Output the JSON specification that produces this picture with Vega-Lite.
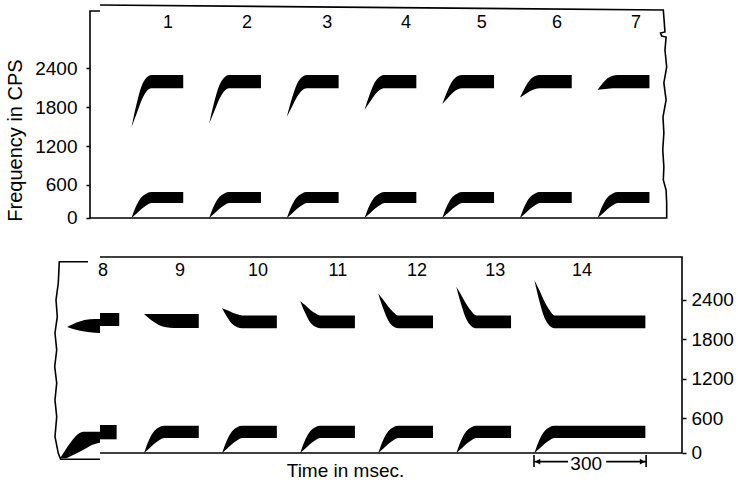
{
  "$schema": "https://vega.github.io/schema/vega-lite/v6.json",
  "width": 592,
  "height": 485,
  "autosize": {"type": "none"},
  "padding": {"left": 90, "top": 0, "right": 56, "bottom": 0},
  "background": "white",
  "config": {"view": {"stroke": null}, "font": "Liberation Sans"},
  "data": {"values": [
    {"k":"a","p":"T","id":"T1F2","t":112,"f":1490,"f2":1490},
    {"k":"a","p":"T","id":"T1F2","t":126,"f":1702,"f2":1855},
    {"k":"a","p":"T","id":"T1F2","t":139,"f":1901,"f2":2122},
    {"k":"a","p":"T","id":"T1F2","t":153,"f":2047,"f2":2260},
    {"k":"a","p":"T","id":"T1F2","t":166,"f":2095,"f2":2300},
    {"k":"a","p":"T","id":"T1F2","t":252,"f":2095,"f2":2300},
    {"k":"a","p":"T","id":"T2F2","t":322,"f":1545,"f2":1545},
    {"k":"a","p":"T","id":"T2F2","t":336,"f":1738,"f2":1885},
    {"k":"a","p":"T","id":"T2F2","t":349,"f":1919,"f2":2134},
    {"k":"a","p":"T","id":"T2F2","t":363,"f":2051,"f2":2262},
    {"k":"a","p":"T","id":"T2F2","t":376,"f":2095,"f2":2300},
    {"k":"a","p":"T","id":"T2F2","t":462,"f":2095,"f2":2300},
    {"k":"a","p":"T","id":"T3F2","t":532,"f":1655,"f2":1655},
    {"k":"a","p":"T","id":"T3F2","t":546,"f":1809,"f2":1945},
    {"k":"a","p":"T","id":"T3F2","t":559,"f":1954,"f2":2158},
    {"k":"a","p":"T","id":"T3F2","t":573,"f":2060,"f2":2268},
    {"k":"a","p":"T","id":"T3F2","t":586,"f":2095,"f2":2300},
    {"k":"a","p":"T","id":"T3F2","t":672,"f":2095,"f2":2300},
    {"k":"a","p":"T","id":"T4F2","t":742,"f":1760,"f2":1760},
    {"k":"a","p":"T","id":"T4F2","t":756,"f":1877,"f2":2003},
    {"k":"a","p":"T","id":"T4F2","t":769,"f":1988,"f2":2181},
    {"k":"a","p":"T","id":"T4F2","t":783,"f":2068,"f2":2273},
    {"k":"a","p":"T","id":"T4F2","t":796,"f":2095,"f2":2300},
    {"k":"a","p":"T","id":"T4F2","t":882,"f":2095,"f2":2300},
    {"k":"a","p":"T","id":"T5F2","t":952,"f":1850,"f2":1850},
    {"k":"a","p":"T","id":"T5F2","t":966,"f":1936,"f2":2053},
    {"k":"a","p":"T","id":"T5F2","t":979,"f":2017,"f2":2201},
    {"k":"a","p":"T","id":"T5F2","t":993,"f":2075,"f2":2278},
    {"k":"a","p":"T","id":"T5F2","t":1006,"f":2095,"f2":2300},
    {"k":"a","p":"T","id":"T5F2","t":1092,"f":2095,"f2":2300},
    {"k":"a","p":"T","id":"T6F2","t":1162,"f":1950,"f2":1950},
    {"k":"a","p":"T","id":"T6F2","t":1176,"f":2001,"f2":2108},
    {"k":"a","p":"T","id":"T6F2","t":1189,"f":2049,"f2":2223},
    {"k":"a","p":"T","id":"T6F2","t":1203,"f":2083,"f2":2283},
    {"k":"a","p":"T","id":"T6F2","t":1216,"f":2095,"f2":2300},
    {"k":"a","p":"T","id":"T6F2","t":1302,"f":2095,"f2":2300},
    {"k":"a","p":"T","id":"T7F2","t":1372,"f":2070,"f2":2070},
    {"k":"a","p":"T","id":"T7F2","t":1386,"f":2079,"f2":2174},
    {"k":"a","p":"T","id":"T7F2","t":1399,"f":2087,"f2":2249},
    {"k":"a","p":"T","id":"T7F2","t":1413,"f":2093,"f2":2289},
    {"k":"a","p":"T","id":"T7F2","t":1426,"f":2095,"f2":2300},
    {"k":"a","p":"T","id":"T7F2","t":1512,"f":2095,"f2":2300},

    {"k":"a","p":"T","id":"T1F1","t":112,"f":90,"f2":90},
    {"k":"a","p":"T","id":"T1F1","t":126,"f":159,"f2":290},
    {"k":"a","p":"T","id":"T1F1","t":139,"f":228,"f2":410},
    {"k":"a","p":"T","id":"T1F1","t":153,"f":286,"f2":470},
    {"k":"a","p":"T","id":"T1F1","t":166,"f":320,"f2":490},
    {"k":"a","p":"T","id":"T1F1","t":252,"f":320,"f2":490},
    {"k":"a","p":"T","id":"T2F1","t":322,"f":90,"f2":90},
    {"k":"a","p":"T","id":"T2F1","t":336,"f":159,"f2":290},
    {"k":"a","p":"T","id":"T2F1","t":349,"f":228,"f2":410},
    {"k":"a","p":"T","id":"T2F1","t":363,"f":286,"f2":470},
    {"k":"a","p":"T","id":"T2F1","t":376,"f":320,"f2":490},
    {"k":"a","p":"T","id":"T2F1","t":462,"f":320,"f2":490},
    {"k":"a","p":"T","id":"T3F1","t":532,"f":90,"f2":90},
    {"k":"a","p":"T","id":"T3F1","t":546,"f":159,"f2":290},
    {"k":"a","p":"T","id":"T3F1","t":559,"f":228,"f2":410},
    {"k":"a","p":"T","id":"T3F1","t":573,"f":286,"f2":470},
    {"k":"a","p":"T","id":"T3F1","t":586,"f":320,"f2":490},
    {"k":"a","p":"T","id":"T3F1","t":672,"f":320,"f2":490},
    {"k":"a","p":"T","id":"T4F1","t":742,"f":90,"f2":90},
    {"k":"a","p":"T","id":"T4F1","t":756,"f":159,"f2":290},
    {"k":"a","p":"T","id":"T4F1","t":769,"f":228,"f2":410},
    {"k":"a","p":"T","id":"T4F1","t":783,"f":286,"f2":470},
    {"k":"a","p":"T","id":"T4F1","t":796,"f":320,"f2":490},
    {"k":"a","p":"T","id":"T4F1","t":882,"f":320,"f2":490},
    {"k":"a","p":"T","id":"T5F1","t":952,"f":90,"f2":90},
    {"k":"a","p":"T","id":"T5F1","t":966,"f":159,"f2":290},
    {"k":"a","p":"T","id":"T5F1","t":979,"f":228,"f2":410},
    {"k":"a","p":"T","id":"T5F1","t":993,"f":286,"f2":470},
    {"k":"a","p":"T","id":"T5F1","t":1006,"f":320,"f2":490},
    {"k":"a","p":"T","id":"T5F1","t":1092,"f":320,"f2":490},
    {"k":"a","p":"T","id":"T6F1","t":1162,"f":90,"f2":90},
    {"k":"a","p":"T","id":"T6F1","t":1176,"f":159,"f2":290},
    {"k":"a","p":"T","id":"T6F1","t":1189,"f":228,"f2":410},
    {"k":"a","p":"T","id":"T6F1","t":1203,"f":286,"f2":470},
    {"k":"a","p":"T","id":"T6F1","t":1216,"f":320,"f2":490},
    {"k":"a","p":"T","id":"T6F1","t":1302,"f":320,"f2":490},
    {"k":"a","p":"T","id":"T7F1","t":1372,"f":90,"f2":90},
    {"k":"a","p":"T","id":"T7F1","t":1386,"f":159,"f2":290},
    {"k":"a","p":"T","id":"T7F1","t":1399,"f":228,"f2":410},
    {"k":"a","p":"T","id":"T7F1","t":1413,"f":286,"f2":470},
    {"k":"a","p":"T","id":"T7F1","t":1426,"f":320,"f2":490},
    {"k":"a","p":"T","id":"T7F1","t":1512,"f":320,"f2":490},

    {"k":"a","p":"B","id":"B8F2w","t":-62,"f":1989,"f2":1989},
    {"k":"a","p":"B","id":"B8F2w","t":-30,"f":1935,"f2":2070},
    {"k":"a","p":"B","id":"B8F2w","t":0,"f":1910,"f2":2105},
    {"k":"a","p":"B","id":"B8F2w","t":27,"f":1898,"f2":2111},
    {"k":"a","p":"B","id":"B8F2b","t":27,"f":2004,"f2":2202},
    {"k":"a","p":"B","id":"B8F2b","t":79,"f":2004,"f2":2202},
    {"k":"a","p":"B","id":"B8F1w","t":-81,"f":-10,"f2":-10},
    {"k":"a","p":"B","id":"B8F1w","t":-67,"f":-8,"f2":115},
    {"k":"a","p":"B","id":"B8F1w","t":-54,"f":20,"f2":219},
    {"k":"a","p":"B","id":"B8F1w","t":-40,"f":55,"f2":320},
    {"k":"a","p":"B","id":"B8F1w","t":-18,"f":120,"f2":396},
    {"k":"a","p":"B","id":"B8F1w","t":0,"f":180,"f2":396},
    {"k":"a","p":"B","id":"B8F1w","t":27,"f":228,"f2":396},
    {"k":"a","p":"B","id":"B8F1b","t":27,"f":280,"f2":498},
    {"k":"a","p":"B","id":"B8F1b","t":72,"f":280,"f2":498},

    {"k":"a","p":"B","id":"B9F2","t":146,"f":2185,"f2":2185},
    {"k":"a","p":"B","id":"B9F2","t":166,"f":2090,"f2":2185},
    {"k":"a","p":"B","id":"B9F2","t":186,"f":2021,"f2":2185},
    {"k":"a","p":"B","id":"B9F2","t":206,"f":1986,"f2":2185},
    {"k":"a","p":"B","id":"B9F2","t":226,"f":1975,"f2":2185},
    {"k":"a","p":"B","id":"B9F2","t":294,"f":1975,"f2":2185},
    {"k":"a","p":"B","id":"B10F2","t":357,"f":2275,"f2":2275},
    {"k":"a","p":"B","id":"B10F2","t":371,"f":2138,"f2":2242},
    {"k":"a","p":"B","id":"B10F2","t":384,"f":2037,"f2":2209},
    {"k":"a","p":"B","id":"B10F2","t":398,"f":1985,"f2":2181},
    {"k":"a","p":"B","id":"B10F2","t":411,"f":1970,"f2":2165},
    {"k":"a","p":"B","id":"B10F2","t":505,"f":1970,"f2":2165},
    {"k":"a","p":"B","id":"B11F2","t":568,"f":2385,"f2":2385},
    {"k":"a","p":"B","id":"B11F2","t":582,"f":2198,"f2":2319},
    {"k":"a","p":"B","id":"B11F2","t":595,"f":2061,"f2":2253},
    {"k":"a","p":"B","id":"B11F2","t":609,"f":1991,"f2":2198},
    {"k":"a","p":"B","id":"B11F2","t":622,"f":1970,"f2":2165},
    {"k":"a","p":"B","id":"B11F2","t":716,"f":1970,"f2":2165},
    {"k":"a","p":"B","id":"B12F2","t":779,"f":2500,"f2":2500},
    {"k":"a","p":"B","id":"B12F2","t":793,"f":2261,"f2":2399},
    {"k":"a","p":"B","id":"B12F2","t":806,"f":2087,"f2":2299},
    {"k":"a","p":"B","id":"B12F2","t":820,"f":1996,"f2":2215},
    {"k":"a","p":"B","id":"B12F2","t":833,"f":1970,"f2":2165},
    {"k":"a","p":"B","id":"B12F2","t":927,"f":1970,"f2":2165},
    {"k":"a","p":"B","id":"B13F2","t":990,"f":2600,"f2":2600},
    {"k":"a","p":"B","id":"B13F2","t":1004,"f":2316,"f2":2469},
    {"k":"a","p":"B","id":"B13F2","t":1017,"f":2109,"f2":2339},
    {"k":"a","p":"B","id":"B13F2","t":1031,"f":2001,"f2":2230},
    {"k":"a","p":"B","id":"B13F2","t":1044,"f":1970,"f2":2165},
    {"k":"a","p":"B","id":"B13F2","t":1138,"f":1970,"f2":2165},
    {"k":"a","p":"B","id":"B14F2","t":1201,"f":2705,"f2":2705},
    {"k":"a","p":"B","id":"B14F2","t":1215,"f":2374,"f2":2543},
    {"k":"a","p":"B","id":"B14F2","t":1228,"f":2132,"f2":2381},
    {"k":"a","p":"B","id":"B14F2","t":1242,"f":2007,"f2":2246},
    {"k":"a","p":"B","id":"B14F2","t":1255,"f":1970,"f2":2165},
    {"k":"a","p":"B","id":"B14F2","t":1501,"f":1970,"f2":2165},

    {"k":"a","p":"B","id":"B9F1","t":146,"f":72,"f2":72},
    {"k":"a","p":"B","id":"B9F1","t":160,"f":140,"f2":279},
    {"k":"a","p":"B","id":"B9F1","t":173,"f":209,"f2":402},
    {"k":"a","p":"B","id":"B9F1","t":187,"f":266,"f2":464},
    {"k":"a","p":"B","id":"B9F1","t":200,"f":300,"f2":485},
    {"k":"a","p":"B","id":"B9F1","t":294,"f":300,"f2":485},
    {"k":"a","p":"B","id":"B10F1","t":357,"f":72,"f2":72},
    {"k":"a","p":"B","id":"B10F1","t":371,"f":140,"f2":279},
    {"k":"a","p":"B","id":"B10F1","t":384,"f":209,"f2":402},
    {"k":"a","p":"B","id":"B10F1","t":398,"f":266,"f2":464},
    {"k":"a","p":"B","id":"B10F1","t":411,"f":300,"f2":485},
    {"k":"a","p":"B","id":"B10F1","t":505,"f":300,"f2":485},
    {"k":"a","p":"B","id":"B11F1","t":568,"f":72,"f2":72},
    {"k":"a","p":"B","id":"B11F1","t":582,"f":140,"f2":279},
    {"k":"a","p":"B","id":"B11F1","t":595,"f":209,"f2":402},
    {"k":"a","p":"B","id":"B11F1","t":609,"f":266,"f2":464},
    {"k":"a","p":"B","id":"B11F1","t":622,"f":300,"f2":485},
    {"k":"a","p":"B","id":"B11F1","t":716,"f":300,"f2":485},
    {"k":"a","p":"B","id":"B12F1","t":779,"f":72,"f2":72},
    {"k":"a","p":"B","id":"B12F1","t":793,"f":140,"f2":279},
    {"k":"a","p":"B","id":"B12F1","t":806,"f":209,"f2":402},
    {"k":"a","p":"B","id":"B12F1","t":820,"f":266,"f2":464},
    {"k":"a","p":"B","id":"B12F1","t":833,"f":300,"f2":485},
    {"k":"a","p":"B","id":"B12F1","t":927,"f":300,"f2":485},
    {"k":"a","p":"B","id":"B13F1","t":990,"f":72,"f2":72},
    {"k":"a","p":"B","id":"B13F1","t":1004,"f":140,"f2":279},
    {"k":"a","p":"B","id":"B13F1","t":1017,"f":209,"f2":402},
    {"k":"a","p":"B","id":"B13F1","t":1031,"f":266,"f2":464},
    {"k":"a","p":"B","id":"B13F1","t":1044,"f":300,"f2":485},
    {"k":"a","p":"B","id":"B13F1","t":1138,"f":300,"f2":485},
    {"k":"a","p":"B","id":"B14F1","t":1201,"f":72,"f2":72},
    {"k":"a","p":"B","id":"B14F1","t":1215,"f":140,"f2":279},
    {"k":"a","p":"B","id":"B14F1","t":1228,"f":209,"f2":402},
    {"k":"a","p":"B","id":"B14F1","t":1242,"f":266,"f2":464},
    {"k":"a","p":"B","id":"B14F1","t":1255,"f":300,"f2":485},
    {"k":"a","p":"B","id":"B14F1","t":1501,"f":300,"f2":485},

    {"k":"l","p":"T","id":"TF","o":0,"t":27,"f":3288},
    {"k":"l","p":"T","id":"TF","o":1,"t":0,"f":3288},
    {"k":"l","p":"T","id":"TF","o":2,"t":0,"f":90},
    {"k":"l","p":"T","id":"TF","o":3,"t":1558.6,"f":90},
    {"k":"l","p":"T","id":"TF","o":4,"t":1558.6,"f":322},
    {"k":"l","p":"T","id":"TF","o":5,"t":1557,"f":522},
    {"k":"l","p":"T","id":"TF","o":6,"t":1549.5,"f":677},
    {"k":"l","p":"T","id":"TF","o":7,"t":1551,"f":878},
    {"k":"l","p":"T","id":"TF","o":8,"t":1548,"f":1140},
    {"k":"l","p":"T","id":"TF","o":9,"t":1551,"f":1403},
    {"k":"l","p":"T","id":"TF","o":10,"t":1548.6,"f":1650},
    {"k":"l","p":"T","id":"TF","o":11,"t":1557,"f":1913},
    {"k":"l","p":"T","id":"TF","o":12,"t":1551,"f":2176},
    {"k":"l","p":"T","id":"TF","o":13,"t":1558.6,"f":2423},
    {"k":"l","p":"T","id":"TF","o":14,"t":1554,"f":2686},
    {"k":"l","p":"T","id":"TF","o":15,"t":1557,"f":2886},
    {"k":"l","p":"T","id":"TF","o":16,"t":1545,"f":2902},
    {"k":"l","p":"T","id":"TF","o":17,"t":1542,"f":2948},
    {"k":"l","p":"T","id":"TF","o":18,"t":1554,"f":2964},
    {"k":"l","p":"T","id":"TF","o":19,"t":1549.5,"f":3304},
    {"k":"l","p":"T","id":"TF","o":20,"t":27,"f":3381},

    {"k":"l","p":"B","id":"BF","o":0,"t":27,"f":3054},
    {"k":"l","p":"B","id":"BF","o":1,"t":1600,"f":3054},
    {"k":"l","p":"B","id":"BF","o":2,"t":1600,"f":72},
    {"k":"l","p":"B","id":"BF","o":3,"t":27,"f":72},
    {"k":"l","p":"B","id":"BL","o":0,"t":-5.4,"f":2982},
    {"k":"l","p":"B","id":"BL","o":1,"t":-83,"f":2982},
    {"k":"l","p":"B","id":"BL","o":2,"t":-85.7,"f":2658},
    {"k":"l","p":"B","id":"BL","o":3,"t":-91.9,"f":2400},
    {"k":"l","p":"B","id":"BL","o":4,"t":-88.4,"f":2146},
    {"k":"l","p":"B","id":"BL","o":5,"t":-94.6,"f":1898},
    {"k":"l","p":"B","id":"BL","o":6,"t":-90,"f":1639},
    {"k":"l","p":"B","id":"BL","o":7,"t":-95.4,"f":1385},
    {"k":"l","p":"B","id":"BL","o":8,"t":-90,"f":1137},
    {"k":"l","p":"B","id":"BL","o":9,"t":-94.6,"f":878},
    {"k":"l","p":"B","id":"BL","o":10,"t":-90,"f":624},
    {"k":"l","p":"B","id":"BL","o":11,"t":-94.6,"f":320},
    {"k":"l","p":"B","id":"BL","o":12,"t":-85.7,"f":67},
    {"k":"l","p":"B","id":"BL","o":13,"t":-79.2,"f":-24},
    {"k":"l","p":"B","id":"BL","o":14,"t":27,"f":-24},
    {"k":"l","p":"B","id":"BR1","o":0,"t":1200,"f":41},
    {"k":"l","p":"B","id":"BR1","o":1,"t":1200,"f":-141},
    {"k":"l","p":"B","id":"BR2","o":0,"t":1503,"f":41},
    {"k":"l","p":"B","id":"BR2","o":1,"t":1503,"f":-141},
    {"k":"l","p":"B","id":"BR3","o":0,"t":1200,"f":-60},
    {"k":"l","p":"B","id":"BR3","o":1,"t":1292,"f":-60},
    {"k":"l","p":"B","id":"BR4","o":0,"t":1395,"f":-60},
    {"k":"l","p":"B","id":"BR4","o":1,"t":1503,"f":-60},
    {"k":"al","p":"B","t":1210,"f":-60},
    {"k":"ar","p":"B","t":1493,"f":-60},

    {"k":"n","p":"T","t":211,"f":3110,"s":"1"},
    {"k":"n","p":"T","t":424,"f":3110,"s":"2"},
    {"k":"n","p":"T","t":641,"f":3110,"s":"3"},
    {"k":"n","p":"T","t":854,"f":3110,"s":"4"},
    {"k":"n","p":"T","t":1059,"f":3110,"s":"5"},
    {"k":"n","p":"T","t":1262,"f":3110,"s":"6"},
    {"k":"n","p":"T","t":1476,"f":3110,"s":"7"},
    {"k":"n","p":"B","t":35,"f":2841,"s":"8"},
    {"k":"n","p":"B","t":243,"f":2841,"s":"9"},
    {"k":"n","p":"B","t":454,"f":2841,"s":"10"},
    {"k":"n","p":"B","t":670,"f":2841,"s":"11"},
    {"k":"n","p":"B","t":884,"f":2841,"s":"12"},
    {"k":"n","p":"B","t":1095,"f":2841,"s":"13"},
    {"k":"n","p":"B","t":1330,"f":2841,"s":"14"},
    {"k":"m","p":"B","t":1341,"f":-95,"s":"300"}
  ]},
  "encoding": {
    "x": {"field": "t", "type": "quantitative",
      "scale": {"domain": [0, 1600], "nice": false, "zero": false},
      "axis": {"domain": false, "ticks": false, "labels": false, "grid": false,
        "title": "Time in msec.", "titleX": 255, "titleY": -15, "titleAlign": "center", "titleBaseline": "middle",
        "titleFontSize": 19, "titleFontWeight": "normal", "titleColor": "black"}}
  },
  "layer": [
    {
      "transform": [{"filter": "datum.p == 'T'"}],
      "encoding": {
        "y": {"field": "f", "type": "quantitative",
          "scale": {"domain": [-4036, 3458], "nice": false, "zero": false},
          "axis": {"orient": "left", "values": [90, 600, 1200, 1800, 2400],
            "labelExpr": "datum.value < 300 ? '0' : '' + datum.value",
            "domain": false, "grid": false, "tickSize": 4, "tickWidth": 1.5, "tickColor": "black",
            "labelFontSize": 19, "labelColor": "black", "labelPadding": 9,
            "title": "Frequency in CPS", "titleFontSize": 20, "titleFontWeight": "normal", "titleColor": "black",
            "titleX": -75, "titleY": 140, "titleAngle": -90, "titleAlign": "center", "titleBaseline": "middle"}}
      },
      "layer": [
        {"transform": [{"filter": "datum.k == 'a'"}],
         "mark": {"type": "area", "interpolate": "monotone", "color": "black"},
         "encoding": {"y2": {"field": "f2"}, "detail": {"field": "id"}}},
        {"transform": [{"filter": "datum.k == 'l'"}],
         "mark": {"type": "line", "color": "black", "strokeWidth": 1.6},
         "encoding": {"detail": {"field": "id"}, "order": {"field": "o", "type": "quantitative"}}},
        {"transform": [{"filter": "datum.k == 'n'"}],
         "mark": {"type": "text", "fontSize": 18, "color": "black", "baseline": "middle", "align": "center"},
         "encoding": {"text": {"field": "s"}}}
      ]
    },
    {
      "transform": [{"filter": "datum.p == 'B'"}],
      "encoding": {
        "y": {"field": "f", "type": "quantitative",
          "scale": {"domain": [-415, 6964], "nice": false, "zero": false},
          "axis": {"orient": "right", "values": [72, 600, 1200, 1800, 2400],
            "labelExpr": "datum.value < 300 ? '0' : '' + datum.value",
            "domain": false, "grid": false, "tickSize": 4, "tickWidth": 1.5, "tickColor": "black",
            "labelFontSize": 19, "labelColor": "black", "labelPadding": 5, "title": null}}
      },
      "layer": [
        {"transform": [{"filter": "datum.k == 'a'"}],
         "mark": {"type": "area", "interpolate": "monotone", "color": "black"},
         "encoding": {"y2": {"field": "f2"}, "detail": {"field": "id"}}},
        {"transform": [{"filter": "datum.k == 'l'"}],
         "mark": {"type": "line", "color": "black", "strokeWidth": 1.6},
         "encoding": {"detail": {"field": "id"}, "order": {"field": "o", "type": "quantitative"}}},
        {"transform": [{"filter": "datum.k == 'al'"}],
         "mark": {"type": "point", "shape": "triangle-left", "filled": true, "color": "black", "size": 35, "opacity": 1}},
        {"transform": [{"filter": "datum.k == 'ar'"}],
         "mark": {"type": "point", "shape": "triangle-right", "filled": true, "color": "black", "size": 35, "opacity": 1}},
        {"transform": [{"filter": "datum.k == 'n'"}],
         "mark": {"type": "text", "fontSize": 18, "color": "black", "baseline": "middle", "align": "center"},
         "encoding": {"text": {"field": "s"}}},
        {"transform": [{"filter": "datum.k == 'm'"}],
         "mark": {"type": "text", "fontSize": 19, "color": "black", "baseline": "middle", "align": "center"},
         "encoding": {"text": {"field": "s"}}}
      ]
    }
  ],
  "resolve": {"scale": {"y": "independent"}, "axis": {"y": "independent"}}
}
